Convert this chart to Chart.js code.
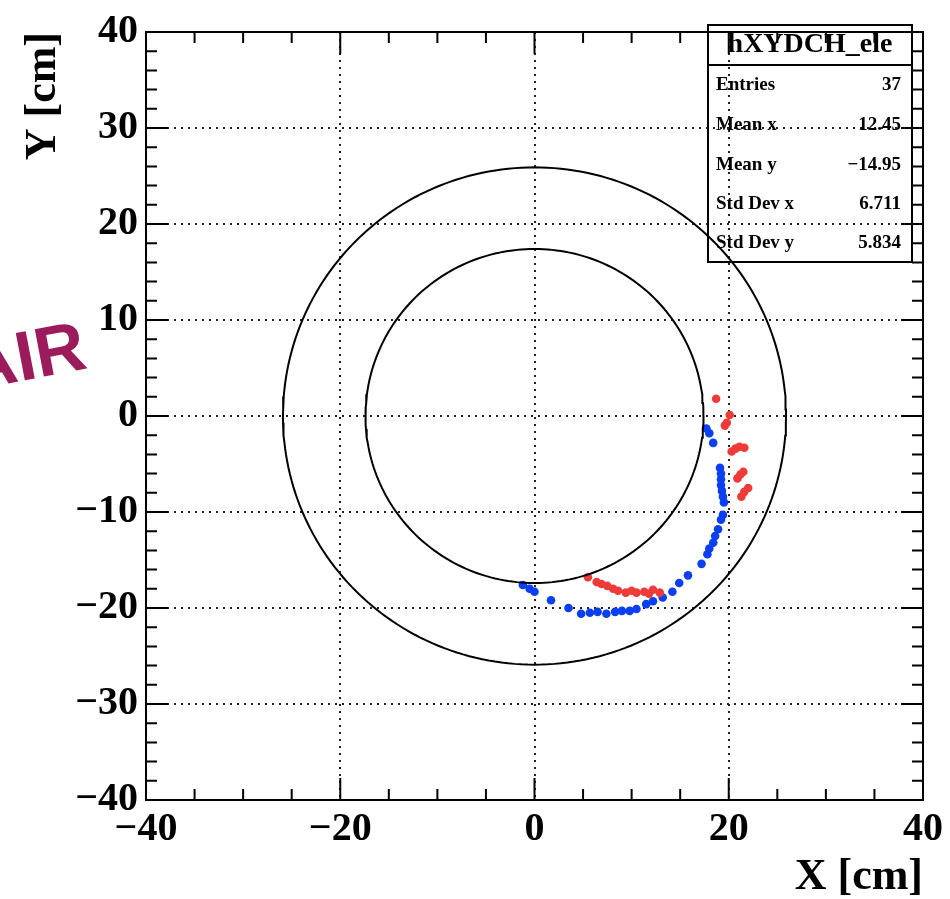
<!DOCTYPE html>
<html>
<head>
    <meta charset="utf-8">
    <title>hXYDCH_ele</title>
    <script src="https://cdn.jsdelivr.net/npm/chart.js"></script>
    <style>
        body {
            margin: 0;
            background: #fff;
        }
        canvas {
            display: block;
        }
    </style>
</head>
<body>
    <canvas id="xyChart" width="950" height="899"></canvas>

    <script>
    // hits in the drift chamber, X/Y in cm
    const eleX = [17.7, 18.4, 19.1, 19.2, 19.2, 19.2, 19.3, 19.4, 19.5, 19.4, 19.2, 18.9, 18.6,
                  18.4, 18.0, 17.8, 17.2, 15.8, 14.9, 14.2, 13.2, 12.2, 11.5, 10.5, 9.8, 8.3,
                  7.4, 6.5, 5.7, 4.8, 3.5, 1.7, 0.0, -0.5, -1.2, 18.0, 9.0];
    const eleY = [-1.3, -2.8, -5.4, -6.0, -6.6, -7.2, -7.8, -8.4, -9.0, -10.3, -10.8, -11.8, -12.5,
                  -13.2, -13.8, -14.4, -15.4, -16.6, -17.4, -18.3, -18.9, -19.3, -19.6, -20.1, -20.3, -20.4,
                  -20.6, -20.4, -20.5, -20.6, -20.0, -19.2, -18.3, -18.0, -17.6, -1.8, -20.3];

    const posX = [18.7, 20.1, 19.8, 19.6, 21.1, 21.6, 20.3, 20.7, 21.5, 20.9, 21.2, 22.0, 21.3, 21.6,
                  5.5, 6.4, 6.9, 7.5, 8.1, 8.6, 9.4, 10.0, 10.5, 11.3, 11.8, 12.2, 12.9];
    const posY = [1.8, 0.1, -0.7, -1.0, -3.2, -3.3, -3.7, -3.4, -5.8, -6.5, -6.1, -7.5, -8.4, -7.9,
                  -16.8, -17.3, -17.5, -17.7, -18.0, -18.2, -18.4, -18.2, -18.4, -18.3, -18.5, -18.1, -18.4];

    // chamber walls
    const innerRadius = 17.4;
    const outerRadius = 25.9;

    const statLabels = ['Entries', 'Mean x', 'Mean y', 'Std Dev x', 'Std Dev y'];
    const statValues = ['37', '12.45', '\u221214.95', '6.711', '5.834'];

    const serif = "'Liberation Serif', 'Times New Roman', serif";

    function ring(r) {
        const pts = [];
        for (let i = 0; i <= 240; i++) {
            const a = i / 240 * 2 * Math.PI;
            pts.push({ x: r * Math.cos(a), y: r * Math.sin(a) });
        }
        return pts;
    }

    function fmt(v) {
        return v < 0 ? '\u2212' + Math.abs(v) : String(v);
    }

    // frame, inner ticks, stats box and the slide overlay text
    const framePlugin = {
        id: 'rootFrame',
        afterDraw(chart) {
            const ctx = chart.ctx;
            const a = chart.chartArea;
            const xs = chart.scales.x;
            const ys = chart.scales.y;
            ctx.save();
            ctx.strokeStyle = '#000';
            ctx.lineWidth = 2;
            ctx.strokeRect(a.left, a.top, a.right - a.left, a.bottom - a.top);

            ctx.beginPath();
            xs.ticks.forEach(t => {
                const px = xs.getPixelForValue(t.value);
                const len = t.value % 20 === 0 ? 22 : 11;
                ctx.moveTo(px, a.bottom); ctx.lineTo(px, a.bottom - len);
                ctx.moveTo(px, a.top); ctx.lineTo(px, a.top + len);
            });
            ys.ticks.forEach(t => {
                const py = ys.getPixelForValue(t.value);
                const len = t.value % 10 === 0 ? 22 : 11;
                ctx.moveTo(a.left, py); ctx.lineTo(a.left + len, py);
                ctx.moveTo(a.right, py); ctx.lineTo(a.right - len, py);
            });
            ctx.stroke();

            // stats box
            const bx = 708, by = 25, bw = 204, bh = 237;
            ctx.lineWidth = 2;
            ctx.strokeRect(bx, by, bw, bh);
            ctx.beginPath();
            ctx.moveTo(bx, 65); ctx.lineTo(bx + bw, 65);
            ctx.stroke();
            ctx.fillStyle = '#000';
            ctx.textBaseline = 'middle';
            ctx.textAlign = 'center';
            ctx.font = 'bold 28px ' + serif;
            ctx.fillText('hXYDCH_ele', bx + bw / 2, 45);
            ctx.font = 'bold 19px ' + serif;
            const rowY = [85, 125, 165, 204, 243];
            statLabels.forEach((s, i) => {
                ctx.textAlign = 'left';
                ctx.fillText(s, 716, rowY[i]);
                ctx.textAlign = 'right';
                ctx.fillText(statValues[i], 901, rowY[i]);
            });

            // overlay text from the slide
            ctx.translate(89, 368);
            ctx.rotate(-0.19);
            ctx.fillStyle = '#9b1b5d';
            ctx.textAlign = 'right';
            ctx.textBaseline = 'alphabetic';
            ctx.font = "bold 70px 'Liberation Sans', Arial, sans-serif";
            ctx.fillText('AIR', 0, 0);
            ctx.restore();
        }
    };

    const tickFont = { family: serif, weight: 'bold', size: 40 };
    const titleFont = { family: serif, weight: 'bold', size: 44, lineHeight: 0.95 };

    new Chart(document.getElementById('xyChart').getContext('2d'), {
        type: 'scatter',
        data: {
            datasets: [
                {
                    label: 'outer wall',
                    data: ring(outerRadius),
                    showLine: true,
                    borderColor: '#000',
                    borderWidth: 2,
                    pointRadius: 0,
                    tension: 0
                },
                {
                    label: 'inner wall',
                    data: ring(innerRadius),
                    showLine: true,
                    borderColor: '#000',
                    borderWidth: 2,
                    pointRadius: 0,
                    tension: 0
                },
                {
                    label: 'other',
                    data: posX.map((x, i) => ({ x: x, y: posY[i] })),
                    backgroundColor: '#ee3b39',
                    borderWidth: 0,
                    pointRadius: 4.3
                },
                {
                    label: 'hXYDCH_ele',
                    data: eleX.map((x, i) => ({ x: x, y: eleY[i] })),
                    backgroundColor: '#0b3ff2',
                    borderWidth: 0,
                    pointRadius: 4.3
                }
            ]
        },
        options: {
            responsive: false,
            animation: false,
            layout: { padding: { top: 25, right: 27, left: 0, bottom: 0 } },
            plugins: {
                legend: { display: false },
                tooltip: { enabled: false }
            },
            scales: {
                x: {
                    type: 'linear',
                    min: -40,
                    max: 40,
                    afterFit: s => { s.height = 99; },
                    ticks: {
                        stepSize: 5,
                        autoSkip: false,
                        maxRotation: 0,
                        padding: 6,
                        color: '#000',
                        font: tickFont,
                        callback: v => v % 20 === 0 ? fmt(v) : ''
                    },
                    grid: {
                        drawTicks: false,
                        lineWidth: 2,
                        color: c => c.tick && c.tick.value % 20 === 0 ? '#222' : 'rgba(0,0,0,0)'
                    },
                    border: { display: false, dash: [2, 5] },
                    title: {
                        display: true,
                        text: 'X [cm]',
                        align: 'end',
                        color: '#000',
                        font: titleFont,
                        padding: 0
                    }
                },
                y: {
                    type: 'linear',
                    min: -40,
                    max: 40,
                    afterFit: s => { s.width = 146; },
                    ticks: {
                        stepSize: 2,
                        autoSkip: false,
                        padding: 8,
                        color: '#000',
                        font: tickFont,
                        callback: v => v % 10 === 0 ? fmt(v) : ''
                    },
                    grid: {
                        drawTicks: false,
                        lineWidth: 2,
                        color: c => c.tick && c.tick.value % 10 === 0 ? '#222' : 'rgba(0,0,0,0)'
                    },
                    border: { display: false, dash: [2, 5] },
                    title: {
                        display: true,
                        text: 'Y [cm]',
                        align: 'end',
                        color: '#000',
                        font: titleFont,
                        padding: { top: 23, bottom: 0 }
                    }
                }
            }
        },
        plugins: [framePlugin]
    });
    </script>
</body>
</html>
